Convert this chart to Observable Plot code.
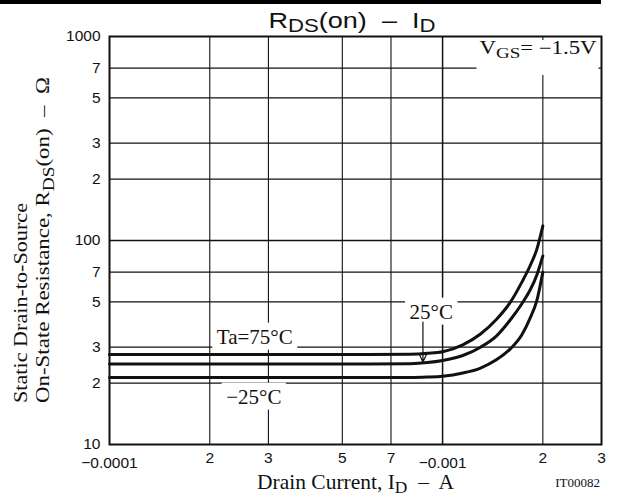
<!DOCTYPE html>
<html><head><meta charset="utf-8">
<script src="https://cdn.jsdelivr.net/npm/d3@7"></script>
<script src="https://cdn.jsdelivr.net/npm/@observablehq/plot@0.6"></script>
<style>
html,body{margin:0;padding:0;background:#fff;}
</style>
</head><body><div id="chart"></div>
<script>
// Drain current magnitude |I_D| (A); the axis is labelled with negative values
const current = [1e-4, 2e-4, 4e-4, 6e-4, 8e-4, 9e-4, 1e-3, 1.15e-3, 1.3e-3, 1.45e-3, 1.6e-3, 1.73e-3, 1.83e-3, 1.92e-3, 2e-3];
// Static drain-to-source on-state resistance (ohm) per ambient temperature
const rds75  = [27.6, 27.6, 27.6, 27.6, 27.7, 28.0, 28.5, 30.8, 34.8, 41.0, 50.0, 62.5, 75.0, 91.0, 118];
const rds25  = [24.8, 24.8, 24.8, 24.8, 24.9, 25.2, 25.8, 27.3, 30.0, 34.0, 41.0, 49.0, 57.0, 68.0, 84];
const rdsM25 = [21.3, 21.3, 21.3, 21.3, 21.3, 21.4, 21.6, 22.4, 23.7, 26.0, 29.5, 34.5, 41.5, 51.0, 70];
const temps = ["75°C", "25°C", "−25°C"];

const xMajorTicks = [1e-4, 1e-3];
const xMajorLabels = ["−0.0001", "−0.001"];
const xMinorTicks = [2e-4, 3e-4, 5e-4, 7e-4, 2e-3, 3e-3];
const xMinorLabels = ["2", "3", "5", "7", "2", "3"];
const xGrid = [2e-4, 3e-4, 5e-4, 7e-4, 1e-3, 2e-3];
const yTicks = [10, 20, 30, 50, 70, 100, 200, 300, 500, 700, 1000];
const yLabels = ["10", "2", "3", "5", "7", "100", "2", "3", "5", "7", "1000"];
const yGrid = [20, 30, 50, 70, 100, 200, 300, 500, 700];

// curve annotations (data coordinates)
const annX = [2.10e-4, 7.96e-4, 2.24e-4];
const annY = [31.2, 41.4, 15.86];
const annText = ["Ta=75°C", "25°C", "−25°C"];
const arrowX = [8.73e-4];
const arrowFrom = [39.8];
const arrowTo = [25.4];

const rows = [];
[rds75, rds25, rdsM25].forEach((s, k) => s.forEach((r, i) => rows.push({I: current[i], R: r, T: temps[k]})));
const ann = annText.map((t, i) => ({x: annX[i], y: annY[i], text: t}));
const arr = arrowX.map((x, i) => ({x, y1: arrowFrom[i], y2: arrowTo[i]}));
const xMin = xMinorTicks.map((v, i) => ({v, t: xMinorLabels[i]}));
const xMaj = xMajorTicks.map((v, i) => ({v, t: xMajorLabels[i]}));
const yLab = yTicks.map((v, i) => ({v, t: yLabels[i]}));

const SERIF = "'Liberation Serif','Times New Roman',serif";
const SANS = "'Liberation Sans',Arial,sans-serif";
const INK = "#111";

const plot = Plot.plot({
  width: 617, height: 497,
  marginLeft: 109, marginRight: 16, marginTop: 36, marginBottom: 53,
  style: {fontFamily: SANS, fontSize: "15px", color: INK, background: "white"},
  x: {type: "log", domain: [1e-4, 3e-3], axis: null, label: null},
  y: {type: "log", domain: [10, 1000], axis: null, label: null},
  marks: [
    Plot.ruleX(xGrid, {stroke: INK, strokeWidth: d => (d === 1e-3 ? 1.5 : 1.1)}),
    Plot.ruleY(yGrid, {stroke: INK, strokeWidth: d => (d === 100 ? 1.5 : 1.1)}),
    Plot.text(ann, {x: "x", y: "y", text: "text", textAnchor: "start", lineAnchor: "bottom",
      fontFamily: SERIF, fontSize: 21, fill: INK}),
    Plot.frame({stroke: INK, strokeWidth: 2}),
    Plot.line(rows, {x: "I", y: "R", z: "T", stroke: INK, strokeWidth: 3, curve: "monotone-x"}),
    Plot.arrow(arr, {x1: "x", x2: "x", y1: "y1", y2: "y2", stroke: INK, strokeWidth: 1.2,
      headAngle: 50, headLength: 11}),
    // tick labels
    Plot.text(xMin, {x: "v", text: "t", frameAnchor: "bottom", lineAnchor: "top", dy: 7,
      fontFamily: SANS, fontSize: 15.5, fill: INK, ariaLabel: "x-tick"}),
    Plot.text(xMaj, {x: "v", text: "t", frameAnchor: "bottom", lineAnchor: "top", dy: 12,
      fontFamily: SANS, fontSize: 15.5, fill: INK, ariaLabel: "x-tick"}),
    Plot.text(yLab, {y: "v", text: "t", frameAnchor: "left", textAnchor: "end", dx: -9,
      fontFamily: SANS, fontSize: 15.5, fill: INK, ariaLabel: "y-tick"})
  ]
});
document.getElementById("chart").append(plot);
const svg = d3.select(plot);

// white boxes behind the curve annotations
svg.selectAll('g[aria-label="text"] text').each(function () {
  const b = this.getBBox();
  const r = document.createElementNS("http://www.w3.org/2000/svg", "rect");
  r.setAttribute("x", b.x - 4.5);
  r.setAttribute("y", b.y - 2);
  r.setAttribute("width", b.width + 9);
  r.setAttribute("height", b.height + 3);
  r.setAttribute("fill", "white");
  r.setAttribute("stroke", "none");
  const tr = this.getAttribute("transform");
  if (tr) r.setAttribute("transform", tr);
  this.parentNode.insertBefore(r, this);
});

const xs = plot.scale("x"), ys = plot.scale("y");
const frameRight = xs.range[1];
const frameTop = ys.range[1];

function rich(parts, o) {
  const t = svg.append("text")
    .attr("font-family", o.family).attr("font-size", o.size).attr("fill", INK)
    .attr("text-anchor", o.anchor || "start").style("white-space", "pre");
  if (o.rotate) t.attr("transform", `translate(${o.x},${o.y}) rotate(-90)`);
  else t.attr("x", o.x).attr("y", o.y);
  let shifted = false;
  for (const p of parts) {
    const ts = t.append("tspan").text(p.t);
    if (p.sub) {
      ts.attr("font-size", o.subSize);
      if (!shifted) { ts.attr("dy", o.subDy); shifted = true; }
    } else if (shifted) { ts.attr("dy", -o.subDy); shifted = false; }
  }
  if (o.length) t.attr("textLength", o.length).attr("lengthAdjust", "spacingAndGlyphs");
  return t;
}

// black rule at the very top
svg.insert("rect", ":first-child").attr("x", 0).attr("y", 0).attr("width", frameRight).attr("height", 4).attr("fill", "#000");
svg.insert("rect", ":first-child").attr("x", 0).attr("y", 0).attr("width", 617).attr("height", 497).attr("fill", "#fff");

// title
rich([{t: "R"}, {t: "DS", sub: 1}, {t: "(on)  –  I"}, {t: "D", sub: 1}],
  {x: 352, y: 28, family: SANS, size: 22, subSize: 18, subDy: 4, anchor: "middle", length: 167});

// V_GS condition box
const vg = rich([{t: "V"}, {t: "GS", sub: 1}, {t: "= −1.5V"}],
  {x: frameRight - 4.5, y: 54, family: SERIF, size: 18, subSize: 15, subDy: 4, anchor: "end", length: 117});
{
  const b = vg.node().getBBox();
  svg.insert("rect", () => vg.node()).attr("x", b.x - 3).attr("y", frameTop + 4)
    .attr("width", b.width + 5).attr("height", 35).attr("fill", "white");
}

// x label
rich([{t: "Drain Current, I"}, {t: "D", sub: 1}, {t: "  –  A"}],
  {x: 257, y: 489, family: SERIF, size: 21, subSize: 17, subDy: 4, length: 197});
svg.append("text").attr("x", frameRight - 1).attr("y", 487).attr("text-anchor", "end")
  .attr("font-family", SERIF).attr("font-size", 13).attr("fill", INK).text("IT00082");

// y label (two lines)
rich([{t: "Static Drain-to-Source"}],
  {x: 27, y: 403, family: SERIF, size: 19, rotate: true, length: 200});
rich([{t: "On-State Resistance, R"}, {t: "DS", sub: 1}, {t: "(on)  –  Ω"}],
  {x: 49, y: 403, family: SERIF, size: 19, subSize: 16, subDy: 5, rotate: true, length: 326});
</script>
</body></html>
